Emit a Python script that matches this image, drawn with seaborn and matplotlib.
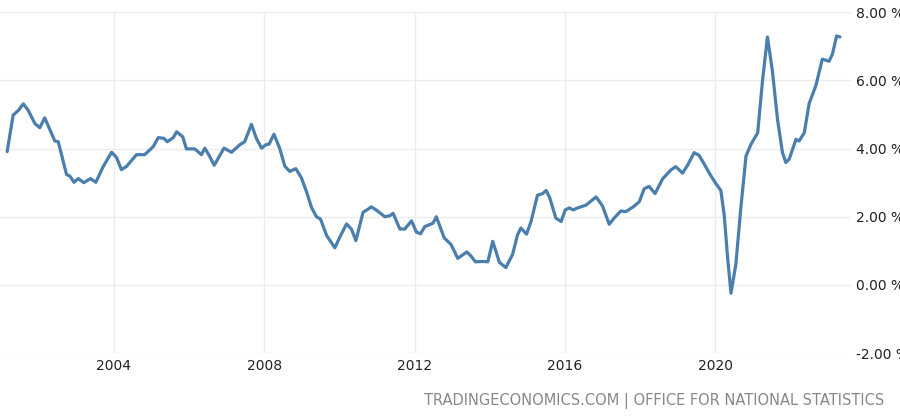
import matplotlib
matplotlib.use("Agg")
import matplotlib.pyplot as plt
import seaborn as sns
import pandas as pd

years = [2001.16,2001.32,2001.46,2001.59,2001.72,2001.90,2002.03,2002.16,2002.43,2002.52,2002.74,2002.83,2002.94,
2003.05,2003.20,2003.38,2003.52,2003.72,2003.94,2004.07,2004.20,2004.34,2004.60,2004.82,2005.05,2005.18,2005.33,
2005.42,2005.58,2005.67,2005.83,2005.93,2006.15,2006.33,2006.42,2006.55,2006.67,2006.77,2006.93,2007.13,2007.35,
2007.48,2007.66,2007.79,2007.93,2008.04,2008.13,2008.26,2008.41,2008.55,2008.68,2008.84,2008.99,2009.12,2009.26,
2009.39,2009.50,2009.66,2009.88,2010.01,2010.19,2010.32,2010.44,2010.63,2010.76,2010.85,2010.99,2011.21,2011.34,
2011.43,2011.61,2011.74,2011.92,2012.05,2012.16,2012.27,2012.40,2012.49,2012.58,2012.79,2012.97,2013.15,2013.28,
2013.39,2013.50,2013.62,2013.81,2013.95,2014.08,2014.26,2014.43,2014.61,2014.74,2014.83,2014.98,2015.10,2015.27,
2015.41,2015.50,2015.59,2015.76,2015.90,2016.01,2016.12,2016.22,2016.34,2016.56,2016.83,2017.00,2017.18,2017.31,
2017.49,2017.62,2017.82,2017.98,2018.11,2018.24,2018.40,2018.60,2018.82,2018.95,2019.13,2019.26,2019.44,2019.57,
2019.71,2019.88,2020.02,2020.15,2020.24,2020.33,2020.42,2020.55,2020.68,2020.82,2020.95,2021.13,2021.26,2021.39,
2021.52,2021.66,2021.79,2021.88,2021.97,2022.15,2022.23,2022.37,2022.50,2022.68,2022.85,2023.03,2023.12,2023.23,2023.32]
growth = [3.91,4.98,5.12,5.31,5.12,4.73,4.61,4.90,4.22,4.20,3.24,3.19,3.01,
3.12,3.00,3.12,3.01,3.48,3.89,3.74,3.38,3.48,3.82,3.82,4.06,4.32,4.30,
4.20,4.32,4.49,4.35,3.99,3.99,3.82,4.01,3.77,3.51,3.70,4.01,3.89,4.11,
4.20,4.71,4.30,4.01,4.11,4.13,4.42,4.01,3.48,3.33,3.41,3.14,2.75,2.27,
2.00,1.93,1.45,1.09,1.40,1.79,1.64,1.30,2.13,2.22,2.29,2.19,2.00,2.03,
2.10,1.64,1.64,1.88,1.55,1.50,1.71,1.77,1.81,2.00,1.38,1.19,0.78,0.88,
0.97,0.85,0.68,0.69,0.68,1.28,0.66,0.51,0.90,1.47,1.67,1.49,1.86,2.63,
2.68,2.77,2.58,1.96,1.86,2.20,2.26,2.20,2.26,2.34,2.58,2.32,1.78,1.96,
2.17,2.15,2.29,2.44,2.82,2.89,2.68,3.11,3.37,3.47,3.28,3.50,3.88,3.80,
3.54,3.21,2.97,2.77,2.05,0.80,-0.24,0.61,2.24,3.78,4.12,4.46,6.00,7.27,
6.29,4.84,3.88,3.59,3.69,4.27,4.22,4.46,5.32,5.85,6.62,6.56,6.77,7.30,7.27]
xticks = [2004, 2008, 2012, 2016, 2020]
yticks = [-2, 0, 2, 4, 6, 8]

df = pd.DataFrame({"year": years, "growth": growth})
sns.set_style("white")
fig = plt.figure(figsize=(9, 4.17), dpi=100)
ax = fig.add_axes([0.0, 0.153, 0.945, 0.818])
sns.lineplot(data=df, x="year", y="growth", ax=ax, color="#4a7eac", linewidth=2.3)
ax.set_xlim(2000.97, 2023.6)
ax.set_ylim(-2, 8)
ax.set_xticks(xticks)
ax.set_xticklabels([str(t) for t in xticks], fontsize=10, color="#222222")
ax.set_yticks(yticks)
ax.set_yticklabels([f"{t:.2f} %" for t in yticks], fontsize=10, color="#222222")
ax.yaxis.tick_right()
ax.tick_params(length=0, pad=4)
ax.grid(True, color="#ececec", linewidth=1)
for s in ax.spines.values():
    s.set_visible(False)
ax.set_xlabel("")
ax.set_ylabel("")
fig.text(0.982, 0.02, "TRADINGECONOMICS.COM | OFFICE FOR NATIONAL STATISTICS", ha="right", va="bottom",
         fontsize=10.5, color="#888888")
fig.savefig("out.png", dpi=100)
